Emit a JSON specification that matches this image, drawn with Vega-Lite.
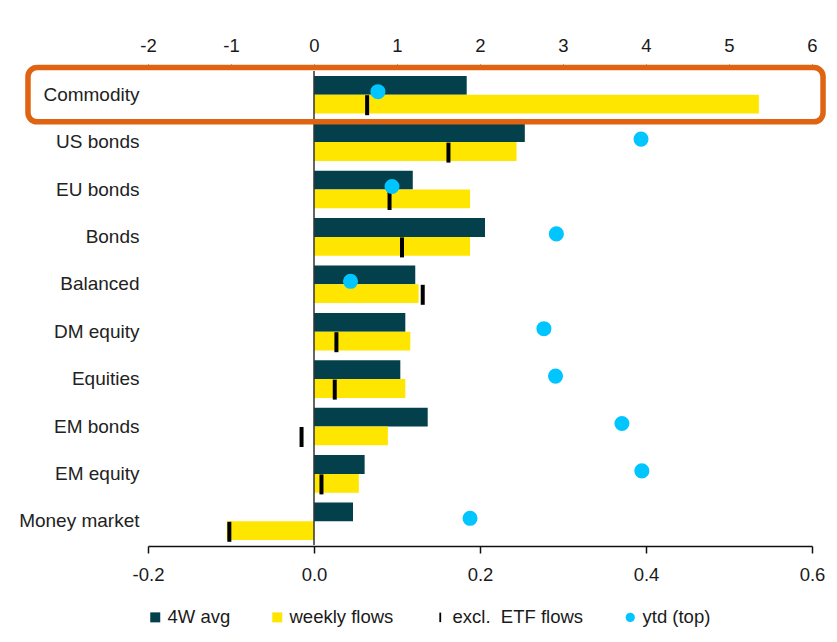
{
  "$schema": "https://vega.github.io/schema/vega-lite/v6.json",
  "width": 664,
  "height": 474,
  "autosize": {"type": "none"},
  "padding": {"left": 148, "top": 71, "right": 25, "bottom": 97},
  "background": "white",
  "config": {
    "view": {"stroke": null},
    "font": "Liberation Sans",
    "axis": {"labelFont": "Liberation Sans", "grid": false, "title": null, "labelFontSize": 18.5, "labelColor": "#1a1a1a", "labelFlush": false, "labelOverlap": false},
    "legend": {"labelFont": "Liberation Sans", "labelFontSize": 18.5, "labelColor": "#1a1a1a"}
  },
  "datasets": {
    "bars": [
      {"category": "Commodity", "series": "4W avg", "value": 0.184},
      {"category": "Commodity", "series": "weekly flows", "value": 0.536},
      {"category": "US bonds", "series": "4W avg", "value": 0.254},
      {"category": "US bonds", "series": "weekly flows", "value": 0.244},
      {"category": "EU bonds", "series": "4W avg", "value": 0.119},
      {"category": "EU bonds", "series": "weekly flows", "value": 0.188},
      {"category": "Bonds", "series": "4W avg", "value": 0.206},
      {"category": "Bonds", "series": "weekly flows", "value": 0.188},
      {"category": "Balanced", "series": "4W avg", "value": 0.122},
      {"category": "Balanced", "series": "weekly flows", "value": 0.126},
      {"category": "DM equity", "series": "4W avg", "value": 0.110},
      {"category": "DM equity", "series": "weekly flows", "value": 0.116},
      {"category": "Equities", "series": "4W avg", "value": 0.104},
      {"category": "Equities", "series": "weekly flows", "value": 0.110},
      {"category": "EM bonds", "series": "4W avg", "value": 0.137},
      {"category": "EM bonds", "series": "weekly flows", "value": 0.089},
      {"category": "EM equity", "series": "4W avg", "value": 0.061},
      {"category": "EM equity", "series": "weekly flows", "value": 0.054},
      {"category": "Money market", "series": "4W avg", "value": 0.047},
      {"category": "Money market", "series": "weekly flows", "value": -0.105}
    ],
    "cats": [
      {"category": "Commodity", "exETF": 0.064, "ytd": 0.77},
      {"category": "US bonds", "exETF": 0.162, "ytd": 3.94},
      {"category": "EU bonds", "exETF": 0.091, "ytd": 0.94},
      {"category": "Bonds", "exETF": 0.106, "ytd": 2.92},
      {"category": "Balanced", "exETF": 0.131, "ytd": 0.44},
      {"category": "DM equity", "exETF": 0.027, "ytd": 2.77},
      {"category": "Equities", "exETF": 0.025, "ytd": 2.91},
      {"category": "EM bonds", "exETF": -0.015, "ytd": 3.71},
      {"category": "EM equity", "exETF": 0.009, "ytd": 3.95},
      {"category": "Money market", "exETF": -0.102, "ytd": 1.88}
    ],
    "highlight": [{"category": "Commodity"}]
  },
  "layer": [
    {
      "layer": [
        {
          "data": {"name": "bars"},
          "mark": {"type": "bar"},
          "encoding": {
            "y": {
              "field": "category", "type": "nominal",
              "sort": ["Commodity", "US bonds", "EU bonds", "Bonds", "Balanced", "DM equity", "Equities", "EM bonds", "EM equity", "Money market"],
              "scale": {"domain": ["Commodity", "US bonds", "EU bonds", "Bonds", "Balanced", "DM equity", "Equities", "EM bonds", "EM equity", "Money market"], "paddingInner": 0.207, "paddingOuter": 0.1035},
              "axis": {"domain": false, "ticks": false, "labelPadding": 9, "labelFontSize": 19, "labelColor": "#222222"}
            },
            "yOffset": {"field": "series", "type": "nominal", "scale": {"domain": ["4W avg", "weekly flows"], "paddingInner": 0, "paddingOuter": 0}},
            "x": {
              "field": "value", "type": "quantitative",
              "scale": {"domain": [-0.2, 0.6], "nice": false, "zero": false},
              "axis": {"orient": "bottom", "values": [-0.2, 0, 0.2, 0.4, 0.6], "labelExpr": "datum.value < 0 ? '-' + format(-datum.value, '.1f') : format(datum.value, '.1f')", "labelFlush": false, "domainColor": "#111111", "domainWidth": 1.5, "tickColor": "#111111", "tickWidth": 1.5, "tickSize": 7, "labelPadding": 12, "offset": 1}
            },
            "color": {
              "field": "series", "type": "nominal",
              "scale": {"domain": ["4W avg", "weekly flows", "excl.\u00a0 ETF flows", "ytd (top)"], "range": ["#03404B", "#FFE600", "#000000", "#00C5FF"]},
              "legend": {
                "title": null, "orient": "none", "direction": "horizontal", "legendX": -2, "legendY": 537,
                "padding": 0, "symbolSize": 100, "symbolStrokeWidth": 0, "labelOffset": 3, "columnPadding": 37,
                "labelFontSize": 18.5,
                "encode": {
                  "symbols": {
                    "update": {
                      "shape": {"signal": "indexof(datum.value, 'ETF') >= 0 ? 'M-0.18,-0.95H0.18V0.95H-0.18Z' : (datum.value === 'ytd (top)' ? 'circle' : 'square')"},
                      "size": {"signal": "datum.value === 'ytd (top)' ? 85 : 100"}
                    }
                  }
                }
              }
            }
          }
        },
        {
          "data": {"values": [{}]},
          "mark": {"type": "rule", "color": "#333333", "strokeWidth": 1.5},
          "encoding": {
            "x": {"datum": 0, "type": "quantitative"}
          }
        },
        {
          "data": {"name": "cats"},
          "mark": {"type": "tick", "color": "#000000", "thickness": 4, "size": 20, "yOffset": 10.5, "opacity": 1},
          "encoding": {
            "y": {"field": "category", "type": "nominal"},
            "x": {"field": "exETF", "type": "quantitative"}
          }
        },
        {
          "data": {"name": "highlight"},
          "mark": {"type": "bar", "height": {"band": 1.444}, "fill": "transparent", "stroke": "#DF6310", "strokeWidth": 5.5, "cornerRadius": 9},
          "encoding": {
            "y": {"field": "category", "type": "nominal"},
            "x": {"datum": -0.3446, "type": "quantitative"},
            "x2": {"datum": 0.6133}
          }
        }
      ]
    },
    {
      "data": {"name": "cats"},
      "mark": {"type": "circle", "color": "#00C5FF", "size": 227, "opacity": 1, "yOffset": -3},
      "encoding": {
        "y": {"field": "category", "type": "nominal"},
        "x": {
          "field": "ytd", "type": "quantitative",
          "scale": {"domain": [-2, 6], "nice": false, "zero": false},
          "axis": {"orient": "top", "values": [-2, -1, 0, 1, 2, 3, 4, 5, 6], "labelExpr": "datum.value < 0 ? '-' + format(-datum.value, 'd') : format(datum.value, 'd')", "labelFlush": false, "domain": false, "tickColor": "#555555", "tickWidth": 1, "tickSize": 4, "offset": 3, "labelPadding": 9}
        }
      }
    }
  ],
  "resolve": {"scale": {"x": "independent"}, "axis": {"x": "independent"}}
}
